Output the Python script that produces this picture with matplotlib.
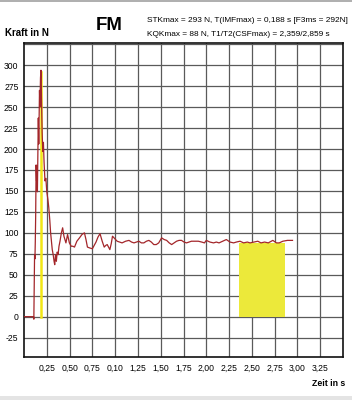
import matplotlib
matplotlib.use("Agg")
import matplotlib.pyplot as plt
import matplotlib.patches as mpatches

# ---- data ----
time_s = [0.0, 0.105, 0.108, 0.112, 0.116, 0.120, 0.124, 0.128, 0.133, 0.138, 0.142,
          0.147, 0.152, 0.157, 0.162, 0.167, 0.170, 0.175, 0.181, 0.186, 0.188,
          0.192, 0.199, 0.206, 0.213, 0.220, 0.230, 0.240, 0.250, 0.262, 0.272,
          0.283, 0.292, 0.301, 0.310, 0.320, 0.330, 0.337, 0.346, 0.355, 0.364,
          0.374, 0.384, 0.395, 0.410, 0.424, 0.438, 0.460, 0.478, 0.498, 0.518,
          0.536, 0.554, 0.580, 0.609, 0.636, 0.663, 0.680, 0.696, 0.720, 0.750,
          0.770, 0.790, 0.812, 0.834, 0.858, 0.880, 0.897, 0.913, 0.928, 0.942,
          0.957, 0.971, 0.996, 1.022, 1.050, 1.076, 1.115, 1.152, 1.180, 1.207,
          1.235, 1.260, 1.288, 1.315, 1.343, 1.370, 1.397, 1.424, 1.451, 1.478,
          1.510, 1.538, 1.565, 1.593, 1.620, 1.647, 1.674, 1.701, 1.728, 1.756,
          1.783, 1.810, 1.837, 1.875, 1.913, 1.950, 1.980, 2.000, 2.040, 2.080,
          2.110, 2.140, 2.180, 2.220, 2.260, 2.300, 2.330, 2.370, 2.410, 2.450,
          2.480, 2.520, 2.565, 2.600, 2.640, 2.680, 2.730, 2.770, 2.800, 2.840,
          2.890, 2.946]
force_n = [0, 0, -3, 40, 74, 69, 90, 120, 181, 162, 180,
           149, 190, 237, 206, 250, 270, 250, 285, 294, 293,
           261, 220, 197, 208, 185, 162, 165, 149, 140, 130,
           115, 100, 90, 80, 74, 66, 62, 74, 66, 77,
           74, 84, 90, 100, 106, 96, 88, 98, 88, 84,
           84, 83, 90, 94, 98, 100, 92, 83, 82, 81,
           85, 89, 95, 99, 90, 83, 85, 86, 83, 80,
           87, 96, 93, 90, 89, 88, 90, 91, 89, 88,
           89, 90, 88, 88, 90, 91, 89, 86, 86, 88,
           94, 92, 91, 88, 86, 88, 90, 91, 91, 89,
           88, 89, 90, 90, 90, 89, 88, 91, 89, 88,
           89, 88, 90, 92, 89, 88, 89, 90, 88, 89,
           88, 89, 90, 88, 89, 88, 91, 88, 88, 90,
           91, 91]

t_imf_max = 0.188
f3ms = 292
t1_csf = 2.359
t2_csf = 2.859
kqk_max = 88

x_ticks = [0.25, 0.50, 0.75, 1.00, 1.25, 1.50, 1.75, 2.00, 2.25, 2.50, 2.75, 3.00, 3.25]
x_tick_labels = ["0,25", "0,50", "0,75", "0,10", "1,25", "1,50", "1,75", "2,00",
                 "2,25", "2,50", "2,75", "3,00", "3,25"]
y_ticks = [-25, 0, 25, 50, 75, 100, 125, 150, 175, 200, 225, 250, 275, 300]
y_tick_labels = [str(v) for v in y_ticks]

title = "FM"
info_line1 = "STKmax = 293 N, T(IMFmax) = 0,188 s [F3ms = 292N]"
info_line2 = "KQKmax = 88 N, T1/T2(CSFmax) = 2,359/2,859 s"

fam = ["Liberation Sans", "DejaVu Sans"]

fig = plt.figure(figsize=(3.52, 4.0), dpi=100)
ax = fig.add_axes([24/352, 1-357.3/400, (343-24)/352, (357.3-43)/400])

ax.set_xlim(0, 3.5)
ax.set_ylim(-48.5, 326.5)

grid_x = [0.25 * i for i in range(1, 14)]
for gx in grid_x:
    ax.axvline(gx, color="#5a5a5a", lw=0.9, zorder=1)
for gy in [-25, 0, 25, 50, 75, 100, 125, 150, 175, 200, 225, 250, 275, 300, 325]:
    ax.axhline(gy, color="#5a5a5a", lw=0.9, zorder=1)

ax.add_patch(mpatches.Rectangle((t1_csf, 0), t2_csf - t1_csf, kqk_max,
                                facecolor="#ece93a", edgecolor="none", zorder=2))
ax.plot([t_imf_max, t_imf_max], [0, f3ms], color="#f2e614", lw=1.8, zorder=2)
ax.plot(time_s, force_n, color="#a3262a", lw=0.9, zorder=3)

ax.set_xticks(x_ticks)
ax.set_xticklabels(x_tick_labels, fontsize=6.2, family=fam)
ax.set_yticks(y_ticks)
ax.set_yticklabels(y_tick_labels, fontsize=6.2, family=fam)
ax.tick_params(length=0)
ax.tick_params(axis="y", pad=4)
ax.tick_params(axis="x", pad=4.5)
for s in ax.spines.values():
    s.set_color("#111111")
    s.set_linewidth(1.2)

t_kraft = fig.text(5/352, 1-33/400, "Kraft in N", fontsize=7.5, fontweight="bold", family=fam,
                   va="center", ha="left")
t_fm = fig.text(96/352, 1-26/400, title, fontsize=13, fontweight="bold", family=fam,
                va="center", ha="left")
t_i1 = fig.text(147/352, 1-20/400, info_line1, fontsize=6.3, family=fam, va="center", ha="left")
t_i2 = fig.text(147/352, 1-34/400, info_line2, fontsize=6.3, family=fam, va="center", ha="left")
t_zeit = fig.text(345/352, 1-383/400, "Zeit in s", fontsize=7.5, fontweight="bold", family=fam,
                  va="center", ha="right")

# fit text widths to the reference's (condensed) lettering
renderer = fig.canvas.get_renderer()
for txt, target_w in [(t_kraft, 44), (t_fm, 27), (t_i1, 201), (t_i2, 182), (t_zeit, 33)]:
    w = txt.get_window_extent(renderer).width
    txt.set_fontsize(txt.get_fontsize() * target_w / w)

# frame bands
fig.patches.append(mpatches.Rectangle((0, 1-1.5/400), 1, 1.5/400, transform=fig.transFigure,
                                      facecolor="#b0b0b0", edgecolor="none"))
fig.patches.append(mpatches.Rectangle((0, 0), 1, 4/400, transform=fig.transFigure,
                                      facecolor="#e4e4e4", edgecolor="none"))

fig.savefig("out.png", dpi=100)
